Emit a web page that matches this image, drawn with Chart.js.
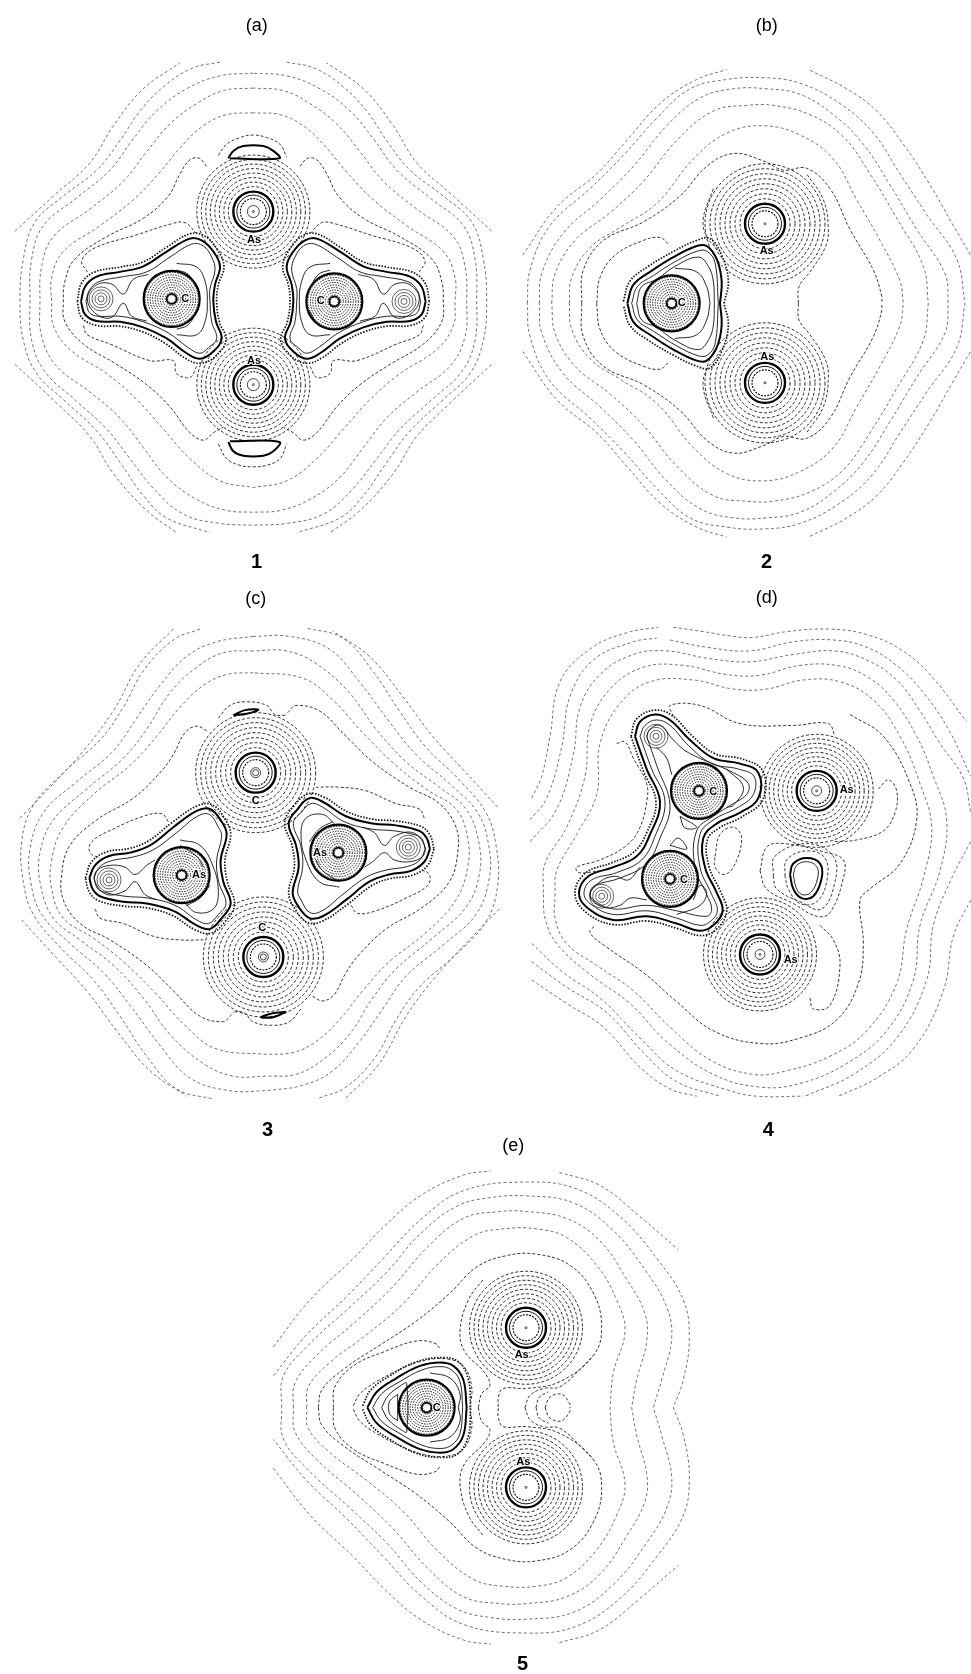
<!DOCTYPE html>
<html>
<head>
<meta charset="utf-8">
<title>Contour maps 1-5</title>
<script src="https://cdn.jsdelivr.net/npm/chart.js@4"></script>
<style>
  body { margin: 0; background: #fff; }
  #page { position: relative; width: 971px; height: 1674px; overflow: hidden; }
  canvas { position: absolute; }
</style>
</head>
<body>
<div id="page">
  <canvas id="panelA" width="500" height="580" style="left:0;top:0"></canvas>
  <canvas id="panelB" width="471" height="580" style="left:500px;top:0"></canvas>
  <canvas id="panelC" width="500" height="570" style="left:0;top:580px"></canvas>
  <canvas id="panelD" width="471" height="570" style="left:500px;top:580px"></canvas>
  <canvas id="panelE" width="460" height="544" style="left:250px;top:1130px"></canvas>
</div>
<script>
// contour values, x y x y ... in each panel's own units

// rings around the atoms
const cloudRadii = [25, 29.5, 34, 38.5, 43, 47.5, 52, 56.5];
const wideCloudRadii = [25, 30, 35, 40, 45, 50, 55, 60];
const ballRadii = [4, 6.5, 9, 11.5, 14, 16.5, 19, 21.5, 24, 26.5];
const ligandRadii = [3, 6, 9, 12];

// panel (a), left half, x mirrors about 760
const aFarOpen = [
  [45,625, 160,530, 270,440, 340,340, 430,240, 540,170],
  [45,985, 170,1090, 270,1180, 340,1280, 440,1380, 530,1440],
  [660,168, 575,185, 490,235, 420,300, 360,380, 290,460, 190,530, 105,600, 70,700, 60,815, 70,920, 110,1010, 190,1080, 290,1165, 360,1250, 430,1340, 500,1400, 630,1440]
];
const aFarWhole = [
  [760,198, 660,205, 560,240, 470,300, 400,375, 330,460, 230,535, 130,610, 95,700, 90,815, 95,920, 135,1005, 230,1085, 320,1160, 390,1240, 460,1320, 550,1390, 660,1415, 760,1420],
  [760,238, 670,245, 590,280, 510,335, 440,410, 370,490, 270,565, 160,640, 125,720, 120,815, 125,910, 170,990, 270,1060, 360,1130, 430,1210, 500,1290, 590,1350, 680,1380, 760,1385],
  [760,305, 680,310, 610,340, 545,395, 480,465, 400,540, 300,610, 190,680, 155,750, 155,815, 160,880, 210,945, 320,1010, 410,1080, 490,1160, 570,1240, 660,1300, 760,1318]
];
const aNear = [
  [620,450, 598,428, 570,432, 540,470, 505,530, 430,590, 320,640, 225,700, 195,760, 190,815, 195,870, 250,930, 350,985, 440,1040, 510,1100, 570,1170, 610,1190, 640,1170, 670,1155],
  [590,632, 555,602, 515,605, 410,635, 285,670, 245,705, 262,735],
  [250,880, 262,905, 330,930, 450,975, 520,975, 530,1010, 570,1020, 590,990]
];
const aFringe = [
  [232,815, 245,765, 285,735, 360,722, 430,708, 500,668, 570,632, 612,637, 650,672, 672,720, 655,770, 650,815, 658,870, 678,918, 648,962, 600,982, 555,968, 495,928, 430,898, 360,882, 290,880, 245,858, 232,815]
];
const aBold = [
  [243,815, 255,775, 290,748, 360,735, 430,720, 500,680, 570,645, 605,650, 640,680, 660,720, 645,770, 640,815, 648,870, 665,915, 640,950, 600,970, 560,955, 500,915, 430,885, 360,870, 290,868, 255,850, 243,815]
];
const aSolid = [
  [258,815, 268,785, 295,762, 370,748, 440,735, 510,695, 575,660, 610,665, 635,695, 645,730, 630,780, 630,815, 635,870, 650,915, 625,940, 600,955, 565,940, 505,900, 430,870, 360,855, 295,855, 268,845, 258,815],
  [445,742, 400,755, 370,795, 335,768, 290,770, 262,808, 290,850, 335,858, 370,820, 395,855, 440,868],
  [530,712, 590,722, 615,760, 622,815, 615,870, 590,905, 530,905],
  [530,730, 565,742, 592,782],
  [530,890, 565,878, 592,838]
];
const aCaps = [
  [685,428, 700,408, 730,395, 790,395, 820,408, 838,428, 690,428],
  [685,1195, 700,1220, 730,1232, 790,1232, 820,1220, 838,1195, 690,1193]
];
const aCapNear = [
  [655,420, 680,390, 720,372, 760,365, 800,372, 840,390, 860,425],
  [655,1200, 680,1240, 720,1258, 760,1262, 800,1258, 840,1240, 860,1200]
];
const aAs = [[760,572], [760,1040]];
const aBalls = [[515,808], [1003,815]];
const aLigands = [[303,808], [1212,815]];
const aText = [['As',762,650], ['As',762,975], ['C',556,808], ['C',962,815]];

// panel (b), upper half, y mirrors about 820
const bFarOpen = [
  [68,690, 170,560, 290,470, 380,380, 480,280, 590,215, 680,188],
  [930,190, 1040,240, 1130,300, 1210,390, 1290,500, 1360,610, 1412,690]
];
const bFarWhole = [
  [82,820, 90,730, 150,610, 270,510, 370,420, 470,320, 570,240, 680,215, 790,210, 900,225, 1020,280, 1120,360, 1200,470, 1280,580, 1370,700, 1395,820],
  [118,820, 125,740, 190,630, 300,540, 400,450, 500,340, 600,265, 700,240, 800,240, 900,255, 1000,310, 1090,390, 1170,500, 1250,620, 1335,740, 1345,820],
  [155,820, 165,740, 225,650, 330,575, 430,490, 530,380, 640,300, 740,285, 820,285, 930,310, 1030,370, 1110,470, 1190,590, 1270,720, 1285,820],
  [208,820, 215,750, 270,670, 360,615, 470,550, 580,430, 680,360, 790,340, 900,365, 1000,430, 1070,540, 1140,650, 1200,760, 1210,820]
];
const bNear = [
  [245,820, 250,730, 310,650, 430,600, 540,530, 620,450, 700,415, 790,435, 850,460, 920,455, 990,510, 1050,620, 1120,730, 1145,800, 1145,820],
  [290,820, 300,750, 345,690, 430,650, 480,642, 505,660],
  [895,820, 897,775, 930,735, 975,670, 985,620, 970,540, 920,470],
  [640,510, 610,590, 620,640, 660,680]
];
const bFringe = [
  [370,815, 390,760, 445,720, 520,680, 590,650, 630,645, 665,690, 685,760, 672,820]
];
const bBold = [
  [382,820, 400,770, 450,735, 520,695, 590,665, 620,665, 650,700, 665,760, 660,820]
];
const bSolid = [
  [395,820, 412,775, 460,745, 530,705, 595,678, 622,680, 645,710, 655,820],
  [410,820, 425,775, 470,755, 525,720, 595,695, 625,720, 640,760, 643,820],
  [525,725, 590,735, 620,775, 630,820]
];
const bAs = [[795,605], [795,1035]];
const bBalls = [[515,820]];
const bText = [['As',800,678], ['As',802,965], ['C',545,820]];

// panel (c), turns about 779,780
const cFarOpen = [
  [60,655, 150,570, 250,470, 340,360, 420,230, 520,135],
  [65,935, 170,1040, 260,1130, 350,1240, 450,1350, 560,1420],
  [600,135, 520,165, 430,250, 370,350, 300,440, 190,530, 100,620, 65,720, 70,830, 100,920, 180,1010, 280,1100, 360,1200, 440,1310, 530,1400, 640,1428]
];
const cFarWhole = [
  [760,155, 650,170, 560,210, 480,290, 410,380, 340,470, 230,555, 130,640, 90,740, 92,830, 125,920, 210,1000, 310,1080, 390,1170, 480,1280, 570,1370, 690,1405, 798,1405],
  [760,195, 670,200, 590,240, 510,310, 440,410, 370,490, 260,575, 160,660, 120,750, 122,840, 160,930, 240,990, 340,1060, 430,1150, 510,1250, 610,1330, 700,1365, 798,1365],
  [760,255, 680,260, 610,290, 540,350, 470,430, 390,510, 280,590, 190,680, 155,770, 155,850, 190,930, 280,985, 370,1050, 470,1140, 560,1230, 650,1290, 798,1305]
];
const cNear = [
  [620,415, 590,402, 555,420, 520,480, 480,530, 400,600, 290,660, 210,730, 185,810, 190,880, 240,945, 330,990, 440,1060, 520,1130, 600,1200, 670,1215, 690,1200, 700,1190],
  [505,665, 485,643, 430,650, 340,685, 275,720, 270,750, 300,765],
  [285,905, 300,930, 370,945, 460,980, 540,990, 610,990],
  [655,380, 690,345, 740,335, 800,345, 825,370, 860,372]
];
const cFringe = [
  [256,820, 275,775, 320,748, 390,738, 445,718, 515,668, 590,622, 636,618, 675,658, 692,700, 675,770, 682,830, 704,892, 675,940, 632,972, 585,962, 515,922, 440,902, 370,897, 295,882, 268,858, 256,820]
];
const cBold = [
  [268,820, 285,785, 325,760, 390,750, 450,730, 520,680, 590,635, 630,630, 665,665, 680,700, 662,770, 670,830, 692,890, 665,930, 630,960, 590,950, 520,910, 440,890, 370,885, 300,870, 278,850, 268,820],
  [700,372, 735,358, 775,357, 740,368, 700,372]
];
const cSolid = [
  [282,820, 298,790, 335,772, 400,762, 460,742, 530,695, 592,650, 628,645, 655,680, 665,705, 650,770, 656,830, 678,890, 655,920, 625,945, 590,935, 525,895, 445,875, 375,870, 310,858, 292,848, 282,820],
  [465,770, 440,785, 405,810, 375,790, 330,785, 290,800, 285,830, 320,865, 375,855, 405,830, 435,865, 470,880],
  [540,715, 600,730, 640,790, 655,860, 640,905, 590,915, 555,890],
  [540,730, 590,760, 610,790],
  [560,895, 600,875, 630,840]
];
const cAs = [[767,530], [790,1037]];
const cBalls = [[545,812], [1015,750]];
const cLigands = [[327,825], [1225,735]];
const cText = [['C',767,607], ['C',787,958], ['As',597,812], ['As',960,752]];

// panel (d), no symmetry, typed whole
const dFar = [
  [95,600, 125,540, 150,430, 180,280, 270,190, 380,145, 475,130],
  [520,130, 610,142, 700,155, 760,158, 860,142, 990,135, 1100,150, 1200,190, 1290,260, 1400,390],
  [95,1100, 200,1165, 310,1230, 420,1340, 510,1400, 590,1420],
  [1412,880, 1360,980, 1330,1130, 1240,1290, 1130,1370, 1015,1420],
  [90,660, 140,600, 185,460, 210,320, 280,220, 400,170, 470,160],
  [510,165, 620,185, 750,195, 880,170, 1000,165, 1100,185, 1190,235, 1270,310, 1345,410, 1412,540],
  [95,1050, 200,1120, 320,1190, 430,1300, 530,1380, 660,1420],
  [1412,720, 1350,830, 1300,950, 1280,1100, 1190,1260, 1060,1360, 915,1420],
  [90,720, 170,630, 220,480, 240,350, 300,260, 400,205, 500,195, 620,215, 750,225, 880,205, 1000,195, 1100,220, 1190,275, 1260,360, 1320,450, 1390,545, 1412,640],
  [95,1000, 190,1080, 300,1150, 420,1260, 530,1350, 690,1405, 770,1420, 910,1420],
  [130,860, 135,780, 200,680, 255,540, 270,400, 330,300, 430,240, 550,235, 680,260, 780,262, 900,235, 1010,235, 1100,265, 1180,330, 1250,430, 1300,540, 1340,660, 1320,800, 1260,950, 1240,1100, 1160,1240, 1040,1330, 900,1385, 780,1395, 640,1360, 500,1270, 390,1165, 270,1085, 170,1000, 135,930, 130,860],
  [165,870, 170,800, 230,700, 290,590, 300,450, 360,340, 450,280, 580,275, 700,300, 800,300, 910,275, 1020,280, 1120,330, 1200,430, 1260,560, 1295,680, 1270,820, 1220,960, 1190,1110, 1100,1240, 990,1310, 860,1350, 760,1360, 630,1320, 510,1230, 400,1130, 290,1060, 200,1000, 165,930, 165,870]
];
const dNear = [
  [520,375, 510,345, 600,345, 720,395, 880,400, 985,395, 1005,430],
  [1050,370, 1150,430, 1230,560, 1250,660, 1200,780, 1110,850, 1080,880, 1090,1000, 1075,1110, 1010,1210, 900,1260, 780,1275, 640,1240, 530,1160, 430,1080, 320,1010, 270,970, 285,950],
  [1135,575, 1165,550, 1190,580, 1185,640, 1150,690, 1070,715, 1000,720],
  [645,760, 660,700, 700,680, 725,710, 700,790, 670,810, 645,790, 645,760],
  [780,800, 800,735, 850,725, 980,750, 1030,770, 1030,820, 990,915, 950,925, 880,890, 800,850, 780,800],
  [820,815, 825,760, 920,725, 1000,760, 1005,830, 965,905, 900,885, 830,850, 820,815],
  [855,815, 860,770, 920,745, 975,765, 980,830, 950,885, 900,890, 865,850, 855,815],
  [350,450, 375,445, 400,490, 440,560, 440,610, 420,680, 380,730, 300,770, 230,790, 235,805, 300,800],
  [930,1150, 940,1180, 990,1170, 1020,1060, 1000,990, 960,950]
];
const dFringe = [
  [393,430, 410,382, 465,358, 515,372, 578,430, 645,478, 725,492, 788,525, 788,605, 725,652, 658,682, 622,715, 627,788, 662,858, 680,912, 648,962, 600,978, 530,958, 440,938, 340,948, 255,912, 225,860, 258,805, 335,778, 402,748, 440,695, 468,610, 430,525, 393,430]
];
const dBold = [
  [405,430, 420,390, 465,370, 510,385, 570,440, 640,490, 720,505, 775,530, 775,600, 720,640, 650,670, 610,710, 615,790, 650,860, 668,910, 640,950, 600,965, 530,945, 440,925, 340,935, 260,900, 237,860, 265,815, 340,790, 410,760, 450,700, 480,610, 440,520, 405,430],
  [870,810, 880,780, 920,765, 960,780, 965,820, 940,870, 905,875, 880,850, 870,810]
];
const dSolid = [
  [420,430, 435,400, 470,385, 510,400, 565,455, 635,505, 715,520, 762,540, 760,590, 715,625, 640,660, 600,700, 600,790, 635,865, 652,910, 630,940, 600,950, 530,930, 440,910, 340,920, 270,890, 252,860, 275,825, 350,805, 425,770, 465,705, 495,610, 455,520, 420,430],
  [440,430, 450,410, 480,400, 520,440, 565,475, 700,530, 745,560, 740,590, 700,615, 640,650, 590,690, 585,790, 620,865, 635,905, 620,925, 530,910, 440,895, 340,905, 280,880, 270,860, 285,840, 360,820, 440,780, 480,710, 510,620, 470,510, 440,430],
  [420,790, 385,825, 345,815, 300,830, 270,870, 310,900, 360,895, 390,875, 440,880],
  [470,460, 500,490, 515,535],
  [540,650, 590,680, 555,682, 540,650],
  [510,730, 535,710, 560,740, 510,730],
  [680,520, 730,570, 700,620, 680,625],
  [530,920, 600,895, 620,860, 600,840, 580,880],
  [880,810, 890,785, 920,775, 950,788, 953,820, 932,860, 905,865, 888,845, 880,810]
];
const dAs = [[950,580], [780,1030]];
const dBalls = [[597,580], [510,822]];
const dLigands = [[468,430], [305,870]];
const dText = [['As',1040,578], ['As',872,1045], ['C',640,582], ['C',552,825]];

// panel (e), upper half, y mirrors about 800
const eFarOpen = [
  [70,625, 180,490, 310,370, 400,280, 510,190, 640,130, 722,118],
  [928,122, 1050,160, 1170,250, 1285,345]
];
const eFarWhole = [
  [70,708, 170,590, 290,480, 400,370, 510,260, 640,175, 830,150, 980,170, 1110,250, 1220,370, 1300,490, 1318,600, 1300,720, 1270,800],
  [95,800, 100,710, 175,620, 300,510, 410,410, 510,300, 620,220, 720,195, 830,190, 970,210, 1090,290, 1190,410, 1250,510, 1265,600, 1235,720, 1210,800],
  [130,800, 135,730, 200,650, 320,550, 430,450, 530,340, 640,255, 750,235, 830,235, 950,255, 1050,320, 1130,430, 1185,530, 1190,610, 1160,720, 1145,800],
  [170,800, 175,740, 240,670, 350,590, 460,500, 560,390, 670,305, 760,285, 860,285, 950,310, 1040,390, 1100,490, 1125,580, 1090,700, 1080,800]
];
const eNear = [
  [205,800, 215,750, 280,690, 390,620, 500,550, 600,470, 680,395, 770,362, 860,358, 960,390, 1030,470, 1055,570, 1030,650, 930,725, 830,745, 760,745, 745,770, 745,800],
  [250,800, 255,740, 310,680, 400,640, 500,608, 555,615, 570,630],
  [685,800, 695,760, 720,735, 700,695, 645,640, 630,580, 655,490, 700,430],
  [825,800, 840,765, 880,745, 930,740, 1000,680, 1030,650],
  [858,800, 868,770, 895,755],
  [885,800, 900,770, 935,762, 960,790, 960,800],
  [310,795, 330,760, 380,725, 450,690, 520,665, 590,660, 640,680, 665,740, 660,800]
];
const eFringe = [
  [338,795, 362,750, 420,708, 500,668, 578,656, 625,668, 655,718, 662,800]
];
const eBold = [
  [352,800, 380,755, 440,715, 510,680, 570,670, 610,680, 640,720, 650,800]
];
const eSolid = [
  [368,800, 395,760, 450,725, 515,692, 570,682, 605,692, 630,725, 638,800],
  [395,800, 415,765, 455,735, 470,730],
  [443,762, 420,780, 415,800],
  [443,762, 443,800],
  [540,700, 600,715, 630,760, 625,800]
];
const eAs = [[828,570], [828,1030]];
const eBalls = [[530,800]];
const eText = [['As',815,648], ['As',820,958], ['C',560,800]];

const panelNames = ['(a)', '(b)', '(c)', '(d)', '(e)'];
const compoundNumbers = ['1', '2', '3', '4', '5'];

// reflect a path, leave an axis null to keep that coordinate
function flip(path, ax, ay) {
  return path.map((v, i) => {
    if (i % 2 === 0) return ax === null ? v : 2 * ax - v;
    return ay === null ? v : 2 * ay - v;
  });
}

// half a contour plus its reflection walked backwards
function whole(path, ax, ay) {
  const back = flip(path, ax, ay);
  const out = path.slice();
  for (let i = back.length - 2; i >= 0; i -= 2) out.push(back[i], back[i + 1]);
  return out;
}

const both = (paths, ax, ay) => paths.concat(paths.map(p => flip(p, ax, ay)));
const wholes = (paths, ax, ay) => paths.map(p => whole(p, ax, ay));
// panel (c) turns by half a circle, so the second half keeps its direction
const turned = (paths, ax, ay) => paths.map(p => p.concat(flip(p, ax, ay)));

const lineStyles = {
  far: { color: '#444', width: 0.75, dash: [3, 2.5] },
  near: { color: '#222', width: 0.9, dash: [3, 2] },
  fringe: { color: '#111', width: 1.7, dash: [1.5, 1.5] },
  bold: { color: '#000', width: 2, dash: [] },
  solid: { color: '#111', width: 0.9, dash: [] }
};

function lineSet(path, style) {
  const s = lineStyles[style];
  const pts = [];
  for (let i = 0; i < path.length; i += 2) pts.push({ x: path[i], y: path[i + 1] });
  return {
    type: 'scatter', data: pts, showLine: true, tension: 0.4,
    borderColor: s.color, borderWidth: s.width, borderDash: s.dash,
    pointRadius: 0, fill: false
  };
}

function ringSet(centers, radii, color, width, dash) {
  const pts = [];
  centers.forEach(c => radii.forEach(r => pts.push({ x: c[0], y: c[1], r: r })));
  return {
    type: 'bubble', data: pts, ringDash: dash,
    borderColor: color, borderWidth: width, backgroundColor: 'rgba(0,0,0,0)'
  };
}

function asRings(centers, radii, coreRadii) {
  return [
    ringSet(centers, radii, '#111', 0.9, [3, 2]),
    ringSet(centers, [20], '#000', 2.4, []),
    ringSet(centers, [16.5], '#111', 1, []),
    ringSet(centers, [13], '#000', 1.1, [2, 1.2]),
    ringSet(centers, coreRadii, '#333', 0.9, [])
  ];
}

function ballRings(centers) {
  return [
    ringSet(centers, ballRadii, '#111', 1, [1.5, 1.2]),
    ringSet(centers, [28], '#000', 2.2, []),
    ringSet(centers, [5], '#000', 1.8, [])
  ];
}

const ringDashPlugin = {
  id: 'ringDash',
  beforeDatasetDraw(chart, args) {
    const ds = chart.data.datasets[args.index];
    if (ds.ringDash) chart.ctx.setLineDash(ds.ringDash);
  },
  afterDatasetDraw(chart) {
    chart.ctx.setLineDash([]);
  }
};

function makePanel(id, xMax, idx, titleAt, numberAt, layers, rings, atomText) {
  const datasets = [];
  Object.keys(layers).forEach(style => {
    layers[style].forEach(path => datasets.push(lineSet(path, style)));
  });
  rings.forEach(r => datasets.push(r));

  const textPlugin = {
    id: 'panelText',
    afterDatasetsDraw(chart) {
      const ctx = chart.ctx, sx = chart.scales.x, sy = chart.scales.y;
      ctx.save();
      ctx.textAlign = 'center';
      ctx.textBaseline = 'middle';
      ctx.fillStyle = '#000';
      ctx.font = '18px "Liberation Sans"';
      ctx.fillText(panelNames[idx], sx.getPixelForValue(titleAt[0]), sy.getPixelForValue(titleAt[1]));
      ctx.font = 'bold 20px "Liberation Sans"';
      ctx.fillText(compoundNumbers[idx], sx.getPixelForValue(numberAt[0]), sy.getPixelForValue(numberAt[1]));
      ctx.font = 'bold 11px "Liberation Sans"';
      ctx.strokeStyle = '#fff';
      ctx.lineWidth = 2;
      atomText.forEach(t => {
        const px = sx.getPixelForValue(t[1]), py = sy.getPixelForValue(t[2]);
        ctx.strokeText(t[0], px, py);
        ctx.fillText(t[0], px, py);
      });
      ctx.restore();
    }
  };

  return new Chart(document.getElementById(id), {
    type: 'scatter',
    data: { datasets: datasets },
    plugins: [ringDashPlugin, textPlugin],
    options: {
      responsive: false,
      animation: false,
      events: [],
      layout: { padding: 0, autoPadding: false },
      plugins: { legend: { display: false }, tooltip: { enabled: false } },
      scales: {
        x: { type: 'linear', display: false, min: 0, max: xMax },
        y: { type: 'linear', display: false, min: 0, max: 1568, reverse: true }
      }
    }
  });
}

const ligandSet = c => ringSet(c, ligandRadii, '#222', 0.7, []);

makePanel('panelA', 1500, 0, [770, 70], [770, 1520], {
  far: both(aFarOpen, 760, null).concat(wholes(aFarWhole, 760, null)),
  near: both(aNear, 760, null).concat(aCapNear),
  fringe: both(aFringe, 760, null),
  bold: both(aBold, 760, null).concat(aCaps),
  solid: both(aSolid, 760, null)
}, asRings(aAs, cloudRadii, [6, 1]).concat(ballRings(aBalls), [ligandSet(aLigands)]), aText);

makePanel('panelB', 1413, 1, [800, 70], [800, 1520], {
  far: both(bFarOpen, null, 820).concat(wholes(bFarWhole, null, 820)),
  near: both(bNear, null, 820),
  fringe: wholes(bFringe, null, 820),
  bold: wholes(bBold, null, 820),
  solid: wholes(bSolid, null, 820)
}, asRings(bAs, wideCloudRadii, [1]).concat(ballRings(bBalls)), bText);

makePanel('panelC', 1500, 2, [767, 52], [803, 1515], {
  far: both(cFarOpen, 779, 780).concat(turned(cFarWhole, 779, 780)),
  near: both(cNear, 779, 780),
  fringe: both(cFringe, 779, 780),
  bold: both(cBold, 779, 780),
  solid: both(cSolid, 779, 780)
}, asRings(cAs, wideCloudRadii, [5, 3]).concat(ballRings(cBalls), [ligandSet(cLigands)]), cText);

makePanel('panelD', 1413, 3, [800, 50], [805, 1515], {
  far: dFar, near: dNear, fringe: dFringe, bold: dBold, solid: dSolid
}, asRings(dAs, cloudRadii, [5, 1]).concat(ballRings(dBalls), [ligandSet(dLigands)]), dText);

makePanel('panelE', 1380, 4, [790, 45], [818, 1540], {
  far: both(eFarOpen, null, 800).concat(wholes(eFarWhole, null, 800)),
  near: both(eNear, null, 800),
  fringe: wholes(eFringe, null, 800),
  bold: wholes(eBold, null, 800),
  solid: wholes(eSolid, null, 800)
}, asRings(eAs, cloudRadii, [1]).concat(ballRings(eBalls)), eText);
</script>
</body>
</html>
